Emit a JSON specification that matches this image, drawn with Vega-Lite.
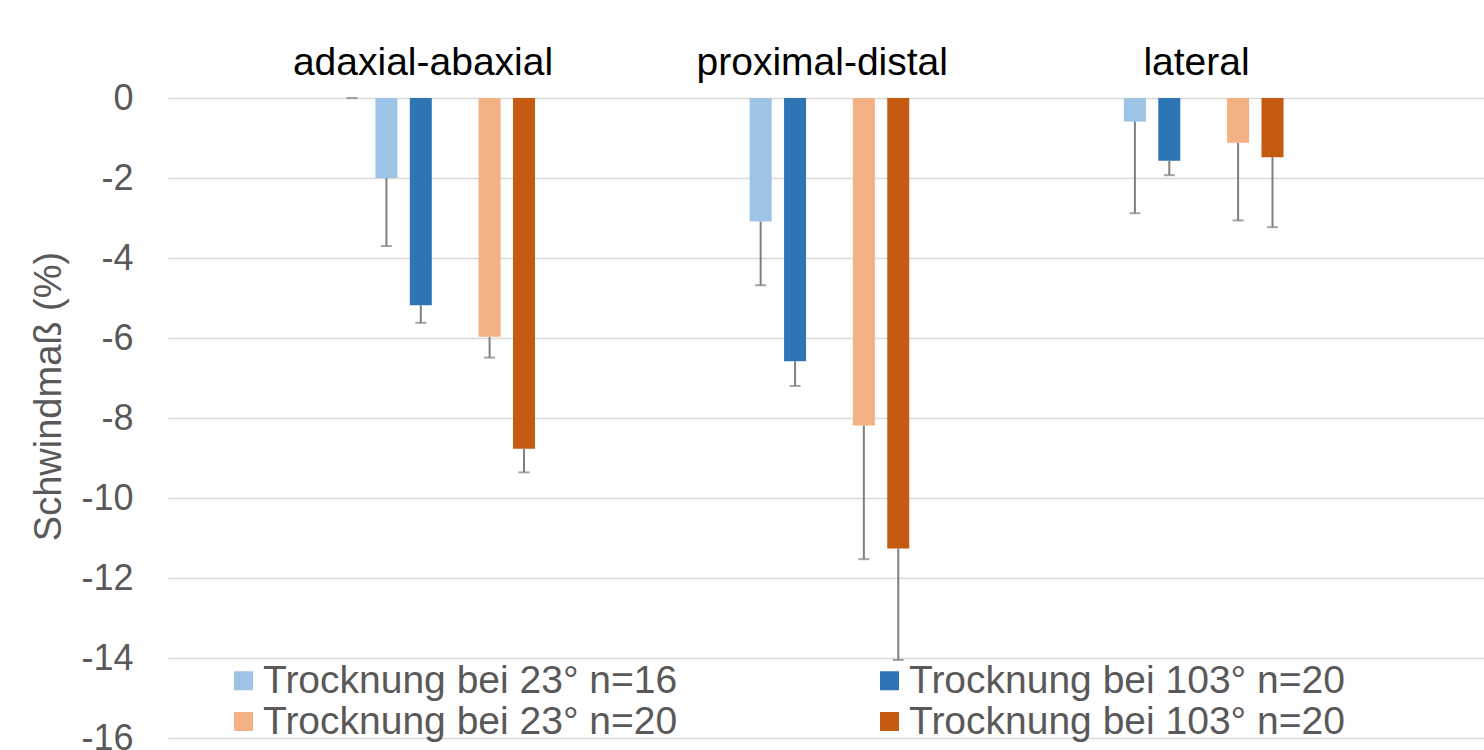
{
  "$schema": "https://vega.github.io/schema/vega-lite/v6.json",
  "width": 1316,
  "height": 640,
  "autosize": {"type": "none"},
  "padding": {"left": 168, "top": 98, "right": 0, "bottom": 12},
  "background": "white",
  "config": {"font": "Liberation Sans", "view": {"stroke": null}},
  "data": {
    "values": [
      {"cat": "adaxial-abaxial", "s": "s0", "mean": 0, "low": 0},
      {"cat": "adaxial-abaxial", "s": "a", "mean": -2.0, "low": -3.7},
      {"cat": "adaxial-abaxial", "s": "b", "mean": -5.18, "low": -5.62},
      {"cat": "adaxial-abaxial", "s": "c", "mean": -5.97, "low": -6.49},
      {"cat": "adaxial-abaxial", "s": "d", "mean": -8.77, "low": -9.36},
      {"cat": "proximal-distal", "s": "a", "mean": -3.09, "low": -4.68},
      {"cat": "proximal-distal", "s": "b", "mean": -6.58, "low": -7.2},
      {"cat": "proximal-distal", "s": "c", "mean": -8.19, "low": -11.53},
      {"cat": "proximal-distal", "s": "d", "mean": -11.26, "low": -14.05},
      {"cat": "lateral", "s": "a", "mean": -0.59, "low": -2.88},
      {"cat": "lateral", "s": "b", "mean": -1.57, "low": -1.93},
      {"cat": "lateral", "s": "c", "mean": -1.12, "low": -3.06},
      {"cat": "lateral", "s": "d", "mean": -1.48, "low": -3.23}
    ]
  },
  "encoding": {
    "x": {
      "field": "cat",
      "type": "nominal",
      "sort": ["adaxial-abaxial", "proximal-distal", "lateral"],
      "scale": {"paddingInner": 0.4816, "paddingOuter": 0.499, "align": 0.4632},
      "axis": {
        "orient": "top",
        "title": null,
        "domain": false,
        "ticks": false,
        "tickSize": 0,
        "grid": false,
        "labelAngle": 0,
        "labelFontSize": 39,
        "labelColor": "black",
        "labelLimit": 600,
        "labelPadding": 16,
        "labelOffset": {"condition": {"test": "datum.value == 'adaxial-abaxial'", "value": -15}, "value": 10}
      }
    },
    "xOffset": {
      "field": "s",
      "type": "nominal",
      "scale": {"domain": ["s0", "a", "b", "s3", "c", "d"], "paddingInner": 0.36, "paddingOuter": 0}
    }
  },
  "layer": [
    {
      "transform": [{"filter": "datum.s != 's0'"}],
      "mark": {"type": "bar"},
      "encoding": {
        "y": {
          "field": "mean",
          "type": "quantitative",
          "title": "Schwindmaß (%)",
          "scale": {"domain": [-16, 0], "nice": false},
          "axis": {
            "values": [0, -2, -4, -6, -8, -10, -12, -14, -16],
            "labelExpr": "toString(datum.value)",
            "domain": false,
            "ticks": false,
            "tickSize": 0,
            "labelFontSize": 36,
            "labelColor": "#595959",
            "labelPadding": 35,
            "titleFontSize": 38,
            "titleFontWeight": "normal",
            "titleColor": "#595959",
            "titlePadding": 12,
            "titleY": 298,
            "gridColor": "#d9d9d9",
            "gridWidth": 1.5
          }
        },
        "color": {
          "field": "s",
          "type": "nominal",
          "scale": {"domain": ["a", "b", "c", "d"], "range": ["#9dc3e6", "#2e75b6", "#f4b183", "#c55a11"]},
          "legend": {
            "title": null,
            "orient": "none",
            "direction": "horizontal",
            "legendX": 56,
            "legendY": 563,
            "columns": 2,
            "columnPadding": 192,
            "rowPadding": 1,
            "padding": 0,
            "symbolType": "square",
            "symbolSize": 361,
            "symbolStrokeWidth": 0,
            "labelFontSize": 39,
            "labelColor": "#595959",
            "labelLimit": 700,
            "labelOffset": 0,
            "labelExpr": "datum.label == 'a' ? 'Trocknung bei 23° n=16' : datum.label == 'b' ? 'Trocknung bei 103° n=20' : datum.label == 'c' ? 'Trocknung bei 23° n=20' : 'Trocknung bei 103° n=20'"
          }
        }
      }
    },
    {
      "mark": {"type": "rule", "color": "#7f7f7f", "strokeWidth": 2},
      "encoding": {
        "y": {"field": "mean", "type": "quantitative", "title": "Schwindmaß (%)"},
        "y2": {"field": "low"}
      }
    },
    {
      "mark": {"type": "tick", "color": "#7f7f7f", "thickness": 2, "size": 11},
      "encoding": {
        "y": {"field": "low", "type": "quantitative", "title": "Schwindmaß (%)"}
      }
    }
  ]
}
